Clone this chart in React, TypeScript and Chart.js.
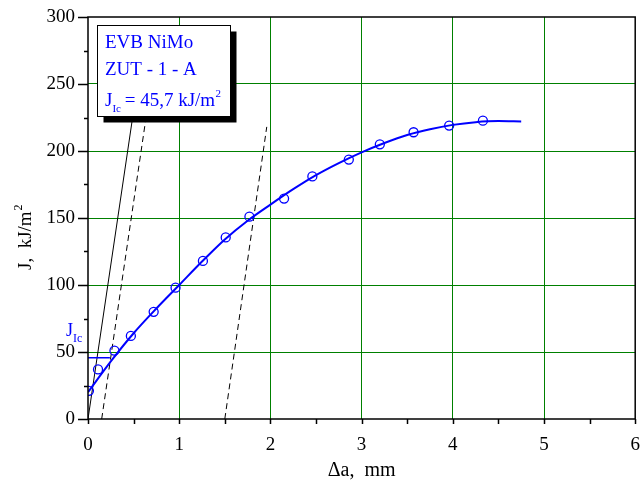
import React, { useEffect, useRef } from "react";
import { Chart, registerables } from "chart.js";

Chart.register(...registerables);

// measured points (crack extension, mm / J, kJ/m2)
const crackExt = [0.01, 0.11, 0.29, 0.47, 0.72, 0.96, 1.26, 1.51, 1.77, 2.15, 2.46, 2.86, 3.2, 3.57, 3.96, 4.33];
const jValues = [21, 37, 51, 62, 80, 98, 118, 135.5, 151, 164.5, 181, 193.6, 205, 214, 219, 222.6];

// fitted R-curve
const fitX = [0, 0.25, 0.5, 0.75, 1, 1.25, 1.5, 1.75, 2, 2.25, 2.5, 2.75, 3, 3.25, 3.5, 3.75, 4, 4.25, 4.5, 4.75];
const fitJ = [20, 43, 64, 82.5, 100, 117.5, 134, 148, 160, 171.5, 182, 191, 199, 206, 212, 216.3, 219.5, 221.5, 222.3, 222];

// blunting line and exclusion lines
const bluntX = [0, 0.5];
const bluntJ = [0, 230];
const excl1X = [0.15, 0.63];
const excl1J = [0, 222];
const excl2X = [1.5, 1.96];
const excl2J = [0, 218];

// J_Ic level
const jIc = 45.7;
const jIcX = [0, 0.24];

// axes
const xTicks = [0, 1, 2, 3, 4, 5, 6];
const xMinorTicks = [0.5, 1.5, 2.5, 3.5, 4.5, 5.5];
const yTicks = [0, 50, 100, 150, 200, 250, 300];
const yMinorTicks = [25, 75, 125, 175, 225, 275];

const boxLines = ["EVB NiMo", "ZUT - 1 - A"];
const xTitle = "\u0394a,  mm";
const yTitle = "J,  kJ/m";

const SERIF = "'Liberation Serif', 'Times New Roman', serif";
const BLUE = "#0000ff";
const GREEN = "#008000";

const pts = (xs: number[], ys: number[]) => xs.map((x, i) => ({ x, y: ys[i] }));

const zeroPad = (s: any) => {
  s.paddingTop = 0;
  s.paddingBottom = 0;
  s.paddingLeft = 0;
  s.paddingRight = 0;
};

const decorPlugin = {
  id: "decor",
  afterDatasetsDraw(chart: any) {
    const { ctx, chartArea: a, scales } = chart;
    const x = scales.x;
    const y = scales.y;
    ctx.save();
    // frame
    ctx.strokeStyle = "#000";
    ctx.lineWidth = 1.5;
    ctx.strokeRect(a.left, a.top, a.right - a.left, a.bottom - a.top);
    // ticks
    ctx.beginPath();
    [...xTicks, ...xMinorTicks].forEach((v) => {
      const px = Math.round(x.getPixelForValue(v)) + 0.5;
      ctx.moveTo(px, a.bottom);
      ctx.lineTo(px, a.bottom + 5);
    });
    yTicks.forEach((v) => {
      const py = Math.round(y.getPixelForValue(v)) + 0.5;
      ctx.moveTo(a.left - 10, py);
      ctx.lineTo(a.left, py);
    });
    yMinorTicks.forEach((v) => {
      const py = Math.round(y.getPixelForValue(v)) + 0.5;
      ctx.moveTo(a.left - 4, py);
      ctx.lineTo(a.left, py);
    });
    ctx.stroke();

    // text box with shadow
    const bx = a.left + 9.5;
    const by = a.top + 8.5;
    const bw = 133;
    const bh = 91;
    ctx.fillStyle = "#000";
    ctx.fillRect(bx + 6, by + 6, bw, bh);
    ctx.fillStyle = "#fff";
    ctx.fillRect(bx, by, bw, bh);
    ctx.lineWidth = 1;
    ctx.strokeStyle = "#000";
    ctx.strokeRect(bx, by, bw, bh);

    ctx.fillStyle = BLUE;
    ctx.textAlign = "left";
    ctx.textBaseline = "alphabetic";
    ctx.font = `19px ${SERIF}`;
    const tx = bx + 7.5;
    ctx.fillText(boxLines[0], tx, by + 22);
    ctx.fillText(boxLines[1], tx, by + 49.5);
    let cx = tx;
    const b3 = by + 80;
    ctx.fillText("J", cx, b3);
    cx += ctx.measureText("J").width;
    ctx.font = `11px ${SERIF}`;
    ctx.fillText("Ic", cx, b3 + 6);
    cx += ctx.measureText("Ic").width;
    ctx.font = `19px ${SERIF}`;
    const rest = " = " + String(jIc).replace(".", ",") + " kJ/m";
    ctx.fillText(rest, cx - 1, b3);
    cx += ctx.measureText(rest).width - 1;
    ctx.font = `11px ${SERIF}`;
    ctx.fillText("2", cx + 0.5, b3 - 9);

    // J_Ic label near axis
    ctx.font = `18px ${SERIF}`;
    ctx.fillText("J", a.left - 22, y.getPixelForValue(62));
    const jw = ctx.measureText("J").width;
    ctx.font = `12px ${SERIF}`;
    ctx.fillText("Ic", a.left - 22 + jw, y.getPixelForValue(62) + 6);

    // axis titles
    ctx.fillStyle = "#000";
    ctx.font = `20px ${SERIF}`;
    ctx.textAlign = "center";
    ctx.fillText(xTitle, (a.left + a.right) / 2, 476);

    ctx.translate(31, 270);
    ctx.rotate(-Math.PI / 2);
    ctx.textAlign = "left";
    ctx.font = `19px ${SERIF}`;
    ctx.fillText(yTitle, 0, 0);
    const yw = ctx.measureText(yTitle).width;
    ctx.font = `12px ${SERIF}`;
    ctx.fillText("2", yw + 1, -9);
    ctx.restore();
  },
};

export default function App() {
  const ref = useRef<HTMLCanvasElement>(null);
  useEffect(() => {
    document.body.style.margin = "0";
    const chart = new Chart(ref.current as HTMLCanvasElement, {
      type: "scatter",
      data: {
        datasets: [
          {
            label: "data",
            data: pts(crackExt, jValues),
            showLine: false,
            pointRadius: 4.5,
            pointStyle: "circle",
            borderColor: BLUE,
            backgroundColor: "rgba(0,0,0,0)",
            borderWidth: 1.3,
          },
          {
            label: "fit",
            data: pts(fitX, fitJ),
            showLine: true,
            pointRadius: 0,
            borderColor: BLUE,
            borderWidth: 2,
            cubicInterpolationMode: "monotone",
          },
          {
            label: "JIc",
            data: pts(jIcX, jIcX.map(() => jIc)),
            showLine: true,
            pointRadius: 0,
            borderColor: BLUE,
            borderWidth: 1.5,
          },
          {
            label: "blunting",
            data: pts(bluntX, bluntJ),
            showLine: true,
            pointRadius: 0,
            borderColor: "#000",
            borderWidth: 1,
          },
          {
            label: "excl1",
            data: pts(excl1X, excl1J),
            showLine: true,
            pointRadius: 0,
            borderColor: "#000",
            borderWidth: 1,
            borderDash: [6, 4],
          },
          {
            label: "excl2",
            data: pts(excl2X, excl2J),
            showLine: true,
            pointRadius: 0,
            borderColor: "#000",
            borderWidth: 1,
            borderDash: [6, 4],
          },
        ],
      },
      options: {
        responsive: false,
        animation: false,
        devicePixelRatio: 1,
        layout: { padding: { left: 0, right: 5, top: 17, bottom: 0 } },
        plugins: { legend: { display: false }, tooltip: { enabled: false } },
        scales: {
          x: {
            type: "linear",
            min: 0,
            max: 6,
            afterBuildTicks: (s: any) => {
              s.ticks = xTicks.map((v) => ({ value: v }));
            },
            afterFit: (s: any) => {
              s.height = 69;
              zeroPad(s);
            },
            ticks: {
              color: "#000",
              font: { family: SERIF, size: 19 },
              padding: 15,
              maxRotation: 0,
            },
            grid: {
              drawTicks: false,
              color: (c: any) => (c.tick && c.tick.value > 0 && c.tick.value < 6 ? GREEN : "rgba(0,0,0,0)"),
              lineWidth: 1,
            },
            border: { display: false },
          },
          y: {
            type: "linear",
            min: 0,
            max: 300,
            afterBuildTicks: (s: any) => {
              s.ticks = yTicks.map((v) => ({ value: v }));
            },
            afterFit: (s: any) => {
              s.width = 88;
              zeroPad(s);
            },
            ticks: {
              color: "#000",
              font: { family: SERIF, size: 19 },
              padding: 13,
            },
            grid: {
              drawTicks: false,
              color: (c: any) => (c.tick && c.tick.value > 0 && c.tick.value < 300 ? GREEN : "rgba(0,0,0,0)"),
              lineWidth: 1,
            },
            border: { display: false },
          },
        },
      },
      plugins: [decorPlugin],
    } as any);
    return () => chart.destroy();
  }, []);
  return <canvas ref={ref} width={641} height={488} style={{ display: "block", width: 641, height: 488 }} />;
}
